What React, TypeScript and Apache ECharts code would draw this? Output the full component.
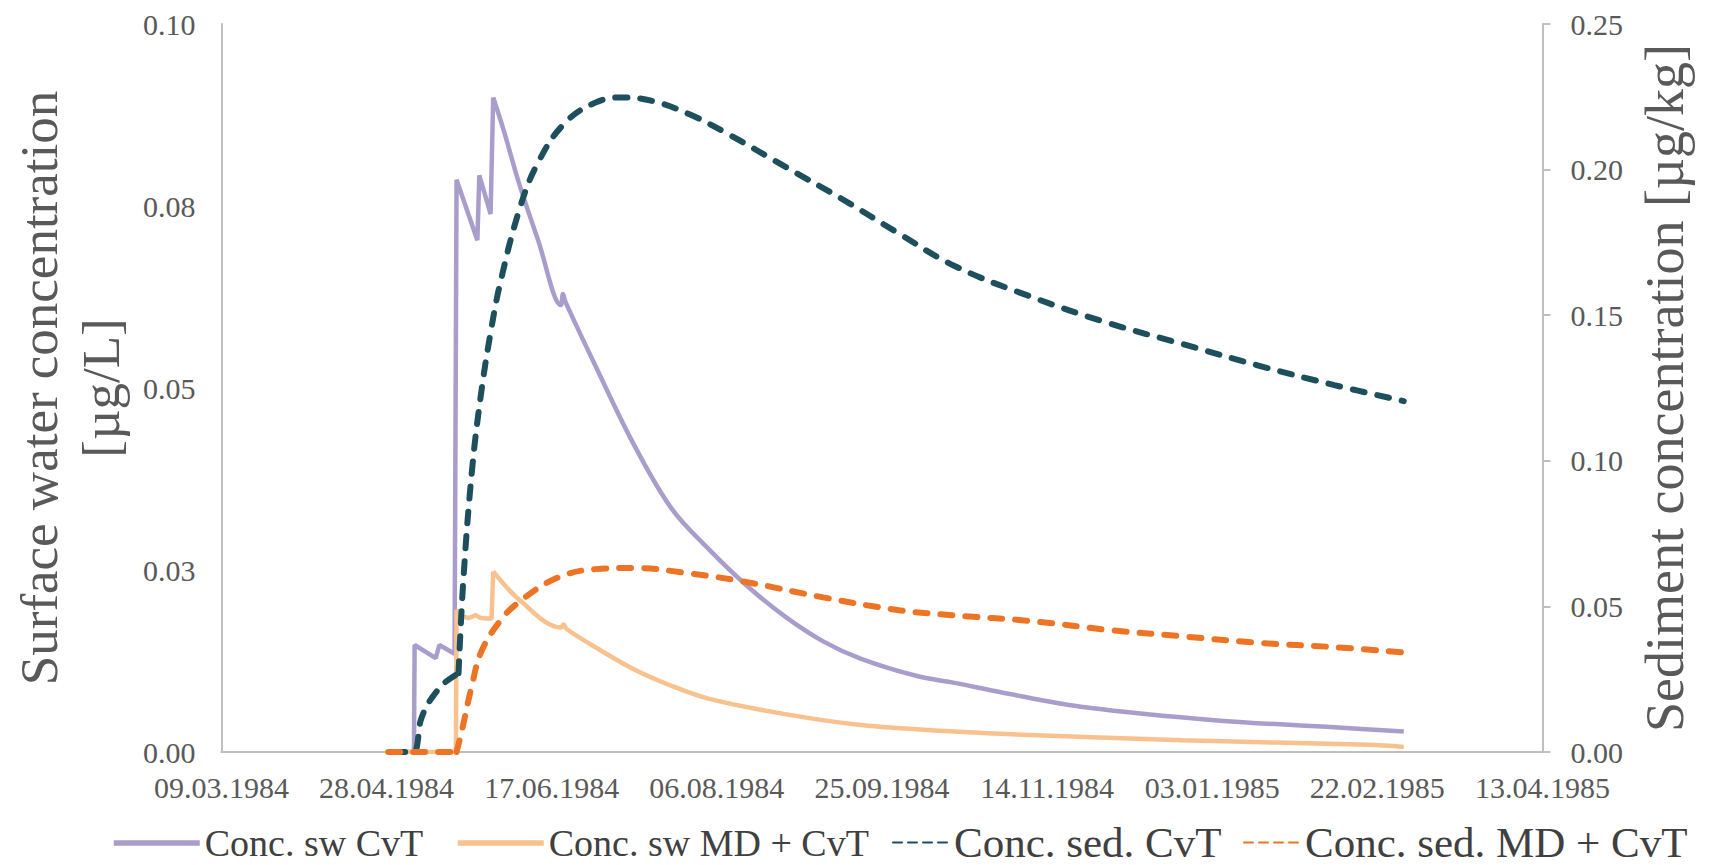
import React, { useEffect, useRef } from "react";
import * as echarts from "echarts";

// x values are days after 09.03.1984 (start of the x axis)
const xTickDays = [0, 50, 100, 150, 200, 250, 300, 350, 400];

const swCvtDays = [52, 58.3, 58.5, 64.9, 66, 70.6, 71.2, 77.5, 78.1, 81.5, 82.3, 85.6, 90.2, 95.9, 102.8, 103.4, 104.2, 113.2, 124.7, 136.2, 147.7, 159.2, 170.7, 182.2, 193.7, 210.9, 222, 236, 262, 302.5, 337, 358];
const swCvtValues = [0, 0, 0.0147, 0.0129, 0.0147, 0.0135, 0.0786, 0.0703, 0.0792, 0.0739, 0.0899, 0.0852, 0.078, 0.0703, 0.0614, 0.0629, 0.0618, 0.0531, 0.0424, 0.0335, 0.0278, 0.0228, 0.0186, 0.0152, 0.0128, 0.0104, 0.0095, 0.0082, 0.0061, 0.0043, 0.0034, 0.0028];

const swMdCvtDays = [52, 71.0, 71.2, 73, 75, 77, 78.5, 81.8, 82.3, 90.2, 102.8, 103.6, 104.5, 113.2, 124.7, 136.2, 147.7, 170.7, 193.7, 222, 236, 291, 347.5, 358];
const swMdCvtValues = [0, 0, 0.0195, 0.0186, 0.0184, 0.0188, 0.0184, 0.0183, 0.0248, 0.0209, 0.0171, 0.0175, 0.0169, 0.0144, 0.0114, 0.0091, 0.0073, 0.0052, 0.0037, 0.0028, 0.0025, 0.0016, 0.001, 0.0007];

const sedCvtDays = [52, 58.2, 60.3, 62.6, 67.2, 71.8, 73.3, 75.9, 78.7, 81.6, 84.4, 90.2, 95.9, 103.9, 113.2, 121.2, 130.4, 141.9, 153.4, 170.7, 187.9, 205.2, 222, 245, 268, 291, 314, 337, 358];
const sedCvtValues = [0, 0, 0.0107, 0.0167, 0.0234, 0.0271, 0.0598, 0.097, 0.1237, 0.1446, 0.1609, 0.1862, 0.2025, 0.2159, 0.223, 0.2248, 0.2236, 0.2189, 0.2122, 0.201, 0.1899, 0.178, 0.1669, 0.1564, 0.1475, 0.1401, 0.1327, 0.126, 0.1205];

const sedMdCvtDays = [50.5, 71.2, 72.9, 75.8, 78.7, 84.4, 90.2, 101.7, 113.2, 124.7, 141.9, 159.2, 182.2, 205.2, 222, 245, 268, 291, 314, 337, 358];
const sedMdCvtValues = [0, 0, 0.0078, 0.0226, 0.0345, 0.045, 0.0516, 0.0598, 0.0628, 0.0632, 0.0613, 0.0583, 0.0531, 0.0487, 0.0469, 0.045, 0.042, 0.0397, 0.0375, 0.036, 0.0342];

const seriesNames = ["Conc. sw CvT", "Conc. sw MD + CvT", "Conc. sed. CvT", "Conc. sed. MD + CvT"];
const leftAxisTitle = "Surface water concentration\n[µg/L]";
const rightAxisTitle = "Sediment concentration [µg/kg]";

const FONT = "Liberation Serif, Times New Roman, serif";

function pairs(days: number[], vals: number[], from: number, to: number) {
  const out: number[][] = [];
  for (let i = from; i <= to && i < days.length; i++) out.push([days[i], vals[i]]);
  return out;
}

function dayLabel(d: number) {
  const dt = new Date(Date.UTC(1984, 2, 9 + Math.round(d)));
  const p = (n: number) => (n < 10 ? "0" + n : "" + n);
  return p(dt.getUTCDate()) + "." + p(dt.getUTCMonth() + 1) + "." + dt.getUTCFullYear();
}

function fmt2(v: number) {
  return (Math.round(v * 100 + 1e-6) / 100).toFixed(2);
}

export default function App() {
  const ref = useRef<HTMLDivElement>(null);
  useEffect(() => {
    if (!ref.current) return;
    const chart = echarts.init(ref.current, undefined, { renderer: "svg" });
    const axisLineStyle = { color: "#BFBFBF", width: 2 };
    const labelStyle = { color: "#595959", fontSize: 30, fontFamily: FONT };
    const legendTextA = { color: "#404040", fontSize: 38, fontFamily: FONT };
    const legendTextB = { color: "#404040", fontSize: 43, fontFamily: FONT };
    const hideSymbol = { opacity: 0 };
    const solidIcon = { width: 5.5 };
    const dashedIcon = { type: [9, 6], cap: "round" };
    const mk = (
      name: string, days: number[], vals: number[], from: number, to: number,
      axis: number, color: string, width: number, dashed: boolean, smooth: number
    ) => ({
      name,
      type: "line",
      yAxisIndex: axis,
      symbol: "none",
      smooth,
      data: pairs(days, vals, from, to),
      lineStyle: dashed ? { color, width, type: [12, 13], cap: "round" } : { color, width },
      itemStyle: { color },
    });
    const purple = "#A99DCC", lightOrange = "#F8C18E", teal = "#1D4F5C", orange = "#EC7424";
    chart.setOption({
      animation: false,
      backgroundColor: "#ffffff",
      textStyle: { fontFamily: FONT },
      grid: { left: 205, right: 166.5, top: 24, bottom: 113, containLabel: false },
      legend: [
        { data: [seriesNames[0]], left: 106, top: 819, itemWidth: 86, itemHeight: 14, itemStyle: hideSymbol, lineStyle: solidIcon, textStyle: legendTextA },
        { data: [seriesNames[1]], left: 450, top: 819, itemWidth: 86, itemHeight: 14, itemStyle: hideSymbol, lineStyle: solidIcon, textStyle: legendTextA },
        { data: [seriesNames[2]], left: 887, top: 816, itemWidth: 56, itemHeight: 14, itemStyle: hideSymbol, textStyle: legendTextB, lineStyle: dashedIcon },
        { data: [seriesNames[3]], left: 1238, top: 816, itemWidth: 56, itemHeight: 14, itemStyle: hideSymbol, textStyle: legendTextB, lineStyle: dashedIcon },
      ],
      xAxis: {
        type: "value",
        min: xTickDays[0],
        max: xTickDays[xTickDays.length - 1],
        interval: 50,
        axisLine: { show: true, lineStyle: axisLineStyle },
        axisTick: { show: false },
        splitLine: { show: false },
        axisLabel: { ...labelStyle, margin: 20, formatter: (v: number) => dayLabel(v) },
      },
      yAxis: [
        {
          type: "value",
          position: "left",
          min: 0,
          max: 0.1,
          interval: 0.025,
          axisLine: { show: true, lineStyle: axisLineStyle },
          axisTick: { show: false },
          splitLine: { show: false },
          axisLabel: { ...labelStyle, margin: 26, formatter: (v: number) => fmt2(v) },
          name: leftAxisTitle,
          nameLocation: "middle",
          nameRotate: 90,
          nameGap: 84,
          nameTextStyle: { color: "#595959", fontSize: 53, lineHeight: 62, fontFamily: FONT },
        },
        {
          type: "value",
          position: "right",
          min: 0,
          max: 0.25,
          interval: 0.05,
          axisLine: { show: true, lineStyle: axisLineStyle },
          axisTick: { show: true, length: 8, lineStyle: axisLineStyle },
          splitLine: { show: false },
          axisLabel: { ...labelStyle, margin: 28, formatter: (v: number) => fmt2(v) },
          name: rightAxisTitle,
          nameLocation: "middle",
          nameRotate: 90,
          nameGap: 95,
          nameTextStyle: { color: "#595959", fontSize: 54, fontFamily: FONT },
        },
      ],
      series: [
        mk(seriesNames[0], swCvtDays, swCvtValues, 0, 10, 0, purple, 4.5, false, 0),
        mk(seriesNames[0], swCvtDays, swCvtValues, 10, 99, 0, purple, 4.5, false, 0.35),
        mk(seriesNames[1], swMdCvtDays, swMdCvtValues, 0, 8, 0, lightOrange, 4.5, false, 0),
        mk(seriesNames[1], swMdCvtDays, swMdCvtValues, 8, 99, 0, lightOrange, 4.5, false, 0.35),
        mk(seriesNames[2], sedCvtDays, sedCvtValues, 0, 5, 1, teal, 6, true, 0.3),
        mk(seriesNames[2], sedCvtDays, sedCvtValues, 5, 99, 1, teal, 6, true, 0.4),
        mk(seriesNames[3], sedMdCvtDays, sedMdCvtValues, 0, 1, 1, orange, 6, true, 0),
        mk(seriesNames[3], sedMdCvtDays, sedMdCvtValues, 1, 99, 1, orange, 6, true, 0.4),
      ],
    });
    return () => chart.dispose();
  }, []);
  return <div ref={ref} style={{ position: "absolute", left: 0, top: 0, width: 1709, height: 865 }} />;
}
